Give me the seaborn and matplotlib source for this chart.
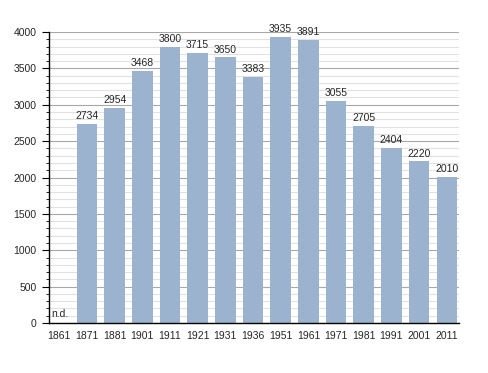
import matplotlib
matplotlib.use("Agg")
import matplotlib.pyplot as plt
import seaborn as sns
import pandas as pd
import numpy as np
from matplotlib.ticker import MultipleLocator

years = ["1861", "1871", "1881", "1901", "1911", "1921", "1931", "1936",
         "1951", "1961", "1971", "1981", "1991", "2001", "2011"]
population = [0, 2734, 2954, 3468, 3800, 3715, 3650, 3383,
              3935, 3891, 3055, 2705, 2404, 2220, 2010]
labels = ["n.d.", "2734", "2954", "3468", "3800", "3715", "3650", "3383",
          "3935", "3891", "3055", "2705", "2404", "2220", "2010"]

df = pd.DataFrame({"year": years, "pop": population})

sns.set_style("white")
plt.rcParams["font.family"] = ["Liberation Sans", "DejaVu Sans"]

fig = plt.figure(figsize=(4.88, 3.73), dpi=100)
ax = fig.add_axes([49/488, 1-323/373, (459-49)/488, (323-32)/373])

ax.set_ylim(0, 4000)
ax.yaxis.set_major_locator(MultipleLocator(500))
ax.yaxis.set_minor_locator(MultipleLocator(100))
ax.grid(which="major", axis="y", color="#a8a8a8", linewidth=0.8)
ax.grid(which="minor", axis="y", color="#e2e2e2", linewidth=0.8)
ax.set_axisbelow(True)

sns.barplot(data=df, x="year", y="pop", color="#9bb3cf", saturation=1,
            width=0.745, ax=ax, linewidth=0)

for i, (v, lab) in enumerate(zip(population, labels)):
    if lab == "n.d.":
        ax.text(i - 0.3, 60, lab, ha="left", va="bottom", fontsize=7.5)
    else:
        ax.text(i, v + 40, lab, ha="center", va="bottom", fontsize=7.5)

ax.set_xlim(-0.37, len(years) - 1 + 0.44)
for s in ["top", "right"]:
    ax.spines[s].set_visible(False)
ax.spines["left"].set_color("black")
ax.spines["bottom"].set_color("black")
ax.spines["left"].set_linewidth(1)
ax.spines["bottom"].set_linewidth(1)
ax.tick_params(axis="y", which="major", left=True, length=5, width=0.8,
               labelsize=7.5, pad=4, color="black")
ax.tick_params(axis="y", which="minor", left=True, length=2.5, width=0.6,
               color="black")
ax.tick_params(axis="x", bottom=False, labelsize=7.5, pad=2)
ax.set_xlabel("")
ax.set_ylabel("")

fig.savefig("out.png", dpi=100)
